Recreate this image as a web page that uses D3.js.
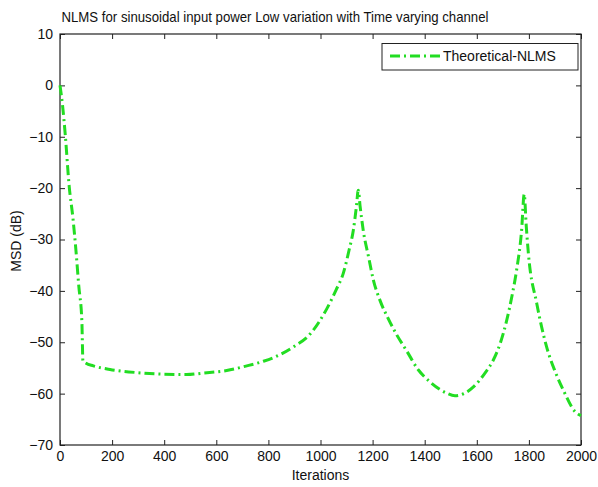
<!DOCTYPE html>
<html>
<head>
<meta charset="utf-8">
<script src="https://cdn.jsdelivr.net/npm/d3@7"></script>
<style>
html,body{margin:0;padding:0;background:#fff;}
svg text{font-family:"Liberation Sans",Arial,Helvetica,sans-serif;fill:#111;}
</style>
</head>
<body>
<svg id="chart" width="598" height="487"></svg>
<script>
// ---- data ----
const titleText = "NLMS for sinusoidal input power Low variation with Time varying channel";
const xLabel = "Iterations";
const yLabel = "MSD (dB)";
const seriesName = "Theoretical-NLMS";
const xTicks = [0,200,400,600,800,1000,1200,1400,1600,1800,2000];
const yTicks = [-70,-60,-50,-40,-30,-20,-10,0,10];
const iterations = [0,10,20,35,50,61,72,84,88,100,128,192,294,384,486,550,640,717,781,819,896,960,1024,1060,1088,1110,1126,1138,1145,1152,1164,1185,1203,1228,1260,1292,1331,1376,1420,1484,1516,1550,1587,1630,1663,1690,1715,1735,1753,1772,1782,1790,1798,1830,1868,1900,1932,1977,2000];
const msd = [0,-4,-9.5,-19.5,-26,-32,-39,-46,-53.6,-54.1,-54.6,-55.3,-55.9,-56.2,-56.3,-56.0,-55.5,-54.6,-53.7,-53.0,-50.9,-48.4,-43.5,-39.8,-36.5,-32,-28.2,-23.5,-20.4,-23.5,-28.2,-33.5,-37.9,-41.8,-45.4,-48.5,-51.7,-55.4,-57.7,-59.9,-60.4,-60.0,-58.7,-56.1,-53.5,-50.2,-45.7,-41,-35.9,-28.2,-21.2,-27.5,-32.7,-42.4,-50.9,-55.6,-59.3,-63.5,-64.3];

const svg = d3.select("#chart");
const L = 60, R = 581, T = 34, B = 445;
const x = d3.scaleLinear().domain([0,2000]).range([L,R]);
const y = d3.scaleLinear().domain([-70,10]).range([B,T]);
const green = "#22dd22";

// title
svg.append("text").attr("x",275).attr("y",22).attr("text-anchor","middle")
  .attr("font-size",15).attr("textLength",427).attr("lengthAdjust","spacingAndGlyphs").text(titleText);

// axes with inward ticks
const tl = 5;
const gB = svg.append("g").attr("transform",`translate(0,${B})`)
  .call(d3.axisBottom(x).tickValues(xTicks).tickSizeInner(-tl).tickSizeOuter(0).tickPadding(6).tickFormat(d3.format("d")));
const gT = svg.append("g").attr("transform",`translate(0,${T})`)
  .call(d3.axisTop(x).tickValues(xTicks).tickSizeInner(-tl).tickSizeOuter(0).tickFormat(""));
const gL = svg.append("g").attr("transform",`translate(${L},0)`)
  .call(d3.axisLeft(y).tickValues(yTicks).tickSizeInner(-tl).tickSizeOuter(0).tickPadding(7).tickFormat(d3.format("d")));
const gR = svg.append("g").attr("transform",`translate(${R},0)`)
  .call(d3.axisRight(y).tickValues(yTicks).tickSizeInner(-tl).tickSizeOuter(0).tickFormat(""));
[gB,gT,gL,gR].forEach(g=>{
  g.select(".domain").remove();
  g.selectAll("line").attr("stroke","#222");
  g.selectAll("text").attr("font-size",14).attr("fill","#111").attr("font-family","Liberation Sans, Arial, sans-serif");
});
gB.selectAll("text").attr("dy","0.71em");

// box
svg.append("rect").attr("x",L).attr("y",T).attr("width",R-L).attr("height",B-T)
  .attr("fill","none").attr("stroke","#222").attr("stroke-width",1.2);

// line
const line = d3.line().x((d,i)=>x(iterations[i])).y(d=>y(d)).curve(d3.curveMonotoneX);
svg.append("path").datum(msd).attr("d",line).attr("fill","none")
  .attr("stroke",green).attr("stroke-width",3).attr("stroke-dasharray","10,4,2,4");

// axis labels
svg.append("text").attr("x",(L+R)/2).attr("y",480).attr("text-anchor","middle").attr("font-size",14).text(xLabel);
svg.append("text").attr("transform","translate(21,241) rotate(-90)").attr("text-anchor","middle").attr("font-size",14).text(yLabel);

// legend
const lg = svg.append("g");
lg.append("rect").attr("x",382).attr("y",43.5).attr("width",196).attr("height",26.5)
  .attr("fill","#fff").attr("stroke","#222").attr("stroke-width",1);
lg.append("line").attr("x1",390).attr("x2",440).attr("y1",56).attr("y2",56)
  .attr("stroke",green).attr("stroke-width",3).attr("stroke-dasharray","10,4,2,4");
lg.append("text").attr("x",443).attr("y",61).attr("font-size",14).text(seriesName);
</script>
</body>
</html>
